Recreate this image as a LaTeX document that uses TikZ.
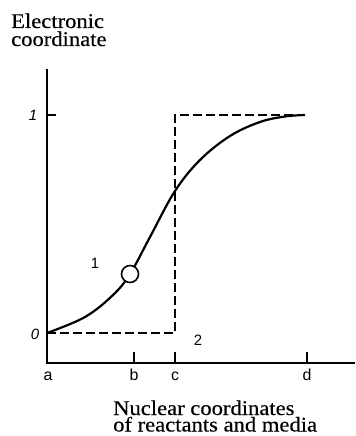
\documentclass[tikz,border=0pt]{standalone}
\usepackage{fontspec}
\setmainfont{Liberation Serif}
\newfontfamily\lsans{Liberation Sans}
\begin{document}
\begin{tikzpicture}[x=1bp,y=-1bp,
  axisline/.style={line width=1.5bp},
  dashline/.style={line width=1.5bp,dash pattern=on 9bp off 4bp},
  curveline/.style={line width=2.2bp},
  ticklbl/.style={font=\lsans\fontsize{16}{16}\selectfont,inner sep=0pt,anchor=base},
  numlbl/.style={font=\lsans\fontsize{15}{15}\selectfont,inner sep=0pt},
  ylbl/.style={font=\lsans\itshape\fontsize{15}{15}\selectfont,inner sep=0pt},
  title/.style={font=\addfontfeature{FakeBold=0.3,FakeStretch=1.08}\fontsize{21}{17}\selectfont,inner sep=0pt,anchor=base west}]
\useasboundingbox (0,0) rectangle (355,436);
% axes
\coordinate (O) at (47,363);
\coordinate (ytop) at (47,69);
\coordinate (xend) at (355,363);
\draw[axisline] (ytop) -- (O) -- (xend);
% y ticks
\coordinate (y1) at (47,115);
\coordinate (y1e) at (56,115);
\draw[axisline] (y1) -- (y1e);
% x ticks
\foreach \n/\x in {b/134,c/175,d/307}{
  \coordinate (t\n) at (\x,363);
  \coordinate (t\n u) at (\x,352);
  \draw[axisline] (t\n) -- (t\n u);
}
% dashed step
\coordinate (s0) at (47,333);
\coordinate (s1) at (175,333);
\coordinate (s2) at (175,115);
\coordinate (s3) at (305,115);
\draw[dashline] (s0) -- (s1) -- (s2) -- (s3);
% curve
\draw[curveline] plot[smooth,tension=0.6] coordinates {(47,333) (85,317) (113,295) (130,274) (150,237) (175,191) (200,160) (230,136) (260,122) (285,116.5) (305,115)};
% circle
\node[circle,draw,fill=white,line width=1.6bp,minimum size=17bp,inner sep=0pt] (st) at (130,274) {};
% labels
\node[ylbl] (l1) at (33,115) {1};
\node[ylbl] (l0) at (35,334) {0};
\node[ticklbl] (la) at (48,380) {a};
\node[ticklbl] (lb) at (134,380) {b};
\node[ticklbl] (lc) at (175,380) {c};
\node[ticklbl] (ld) at (307,380) {d};
\node[numlbl] (c1) at (95,263) {1};
\node[numlbl] (c2) at (198,340) {2};
\node[title] (ty1) at (11,28) {Electronic};
\node[title] (ty2) at (11,46) {coordinate};
\node[title] (tx1) at (113,415) {Nuclear coordinates};
\node[title] (tx2) at (113,431.5) {of reactants and media};
\end{tikzpicture}
\end{document}
